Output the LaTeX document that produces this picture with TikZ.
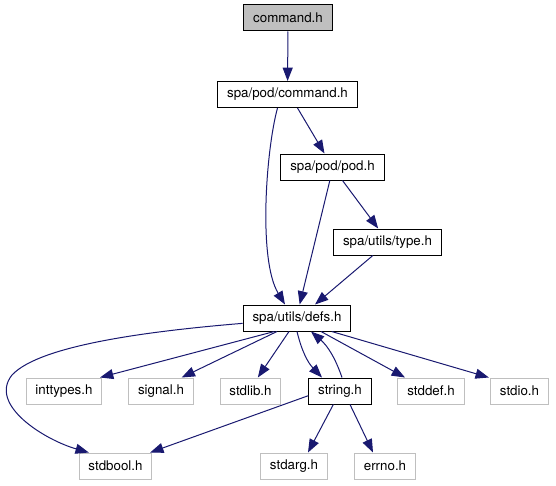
\documentclass[tikz,border=0pt]{standalone}
\usepackage{fontspec}
\setmainfont{TeX Gyre Heros}
\usetikzlibrary{arrows.meta}

\definecolor{edgeblue}{HTML}{191970}
\definecolor{sysgrey}{HTML}{BFBFBF}

\begin{document}
\begin{tikzpicture}[x=0.75pt, y=-0.75pt, >={Triangle[length=10pt, width=7.5pt]},
  font=\fontsize{10}{12}\selectfont,
  hdr/.style={draw=black, line width=0.75pt, minimum height=19.5pt, inner xsep=7pt, inner ysep=0pt},
  sys/.style={hdr, draw=sysgrey},
  dep/.style={->, draw=edgeblue, line width=0.75pt}]
  \useasboundingbox (0,0) rectangle (556,485);
  % ------------------------------------------------------------------ project headers
  \node[hdr, fill=sysgrey] (cmd)  at (288,18)    {command.h};
  \node[hdr]               (pcmd) at (287.5,94.5) {spa/pod/command.h};
  \node[hdr]               (pod)  at (332.5,167) {spa/pod/pod.h};
  \node[hdr]               (type) at (387.5,242) {spa/utils/type.h};
  \node[hdr]               (defs) at (297,318)   {spa/utils/defs.h};
  \node[hdr]               (str)  at (340,391)   {string.h};
  % ------------------------------------------------------------------ system headers
  \node[sys] (inttypes) at (64,391)    {inttypes.h};
  \node[sys] (signal)   at (161,391)   {signal.h};
  \node[sys] (stdlib)   at (250.5,391) {stdlib.h};
  \node[sys] (stddef)   at (431,391)   {stddef.h};
  \node[sys] (stdio)    at (519.5,391) {stdio.h};
  \node[sys] (stdbool)  at (115.5,466) {stdbool.h};
  \node[sys] (stdarg)   at (294,466)   {stdarg.h};
  \node[sys] (errno)    at (385,466)   {errno.h};
  % ------------------------------------------------------------------ upper edges
  \draw[dep] (cmd) -- (pcmd);
  \draw[dep] ([xshift=7.5pt]pcmd.south) -- ([xshift=-6pt]pod.north);
  \draw[dep] ([xshift=-7.5pt]pcmd.south) .. controls (266,150) and (258,260) .. ([xshift=-9pt]defs.north);
  \draw[dep] ([xshift=-2pt]pod.south) -- ([xshift=2pt]defs.north);
  \draw[dep] ([xshift=7.5pt]pod.south) -- ([xshift=-7pt]type.north);
  \draw[dep] ([xshift=-11pt]type.south) -- ([xshift=13.5pt]defs.north);
  % ------------------------------------------------------------------ defs.h fan out
  \draw[dep] ([xshift=-17pt]defs.south) -- ([xshift=27pt]inttypes.north);
  \draw[dep] ([xshift=-15pt]defs.south) -- ([xshift=15.5pt]signal.north);
  \draw[dep] ([xshift=-6pt]defs.south) -- ([xshift=5.5pt]stdlib.north);
  \draw[dep] ([xshift=0pt]defs.south) to[bend right=15] ([xshift=-13.5pt]str.north);
  \draw[dep] ([xshift=1.5pt]str.north) to[bend right=15] ([xshift=10.5pt]defs.south);
  \draw[dep] ([xshift=18pt]defs.south) -- ([xshift=-19.5pt]stddef.north);
  \draw[dep] ([xshift=26pt]defs.south) -- ([xshift=-23pt]stdio.north);
  \draw[dep] ([yshift=-4pt]defs.west) .. controls (150,331) and (40,345) .. (12,375)
    .. controls (-12,405) and (45,440) .. ([xshift=-20pt]stdbool.north);
  % ------------------------------------------------------------------ string.h
  \draw[dep] ([yshift=-3.5pt]str.west) -- ([xshift=26pt]stdbool.north);
  \draw[dep] ([xshift=-5pt]str.south) -- ([xshift=10.5pt]stdarg.north);
  \draw[dep] ([xshift=7.5pt]str.south) -- ([xshift=-9pt]errno.north);
\end{tikzpicture}
\end{document}
